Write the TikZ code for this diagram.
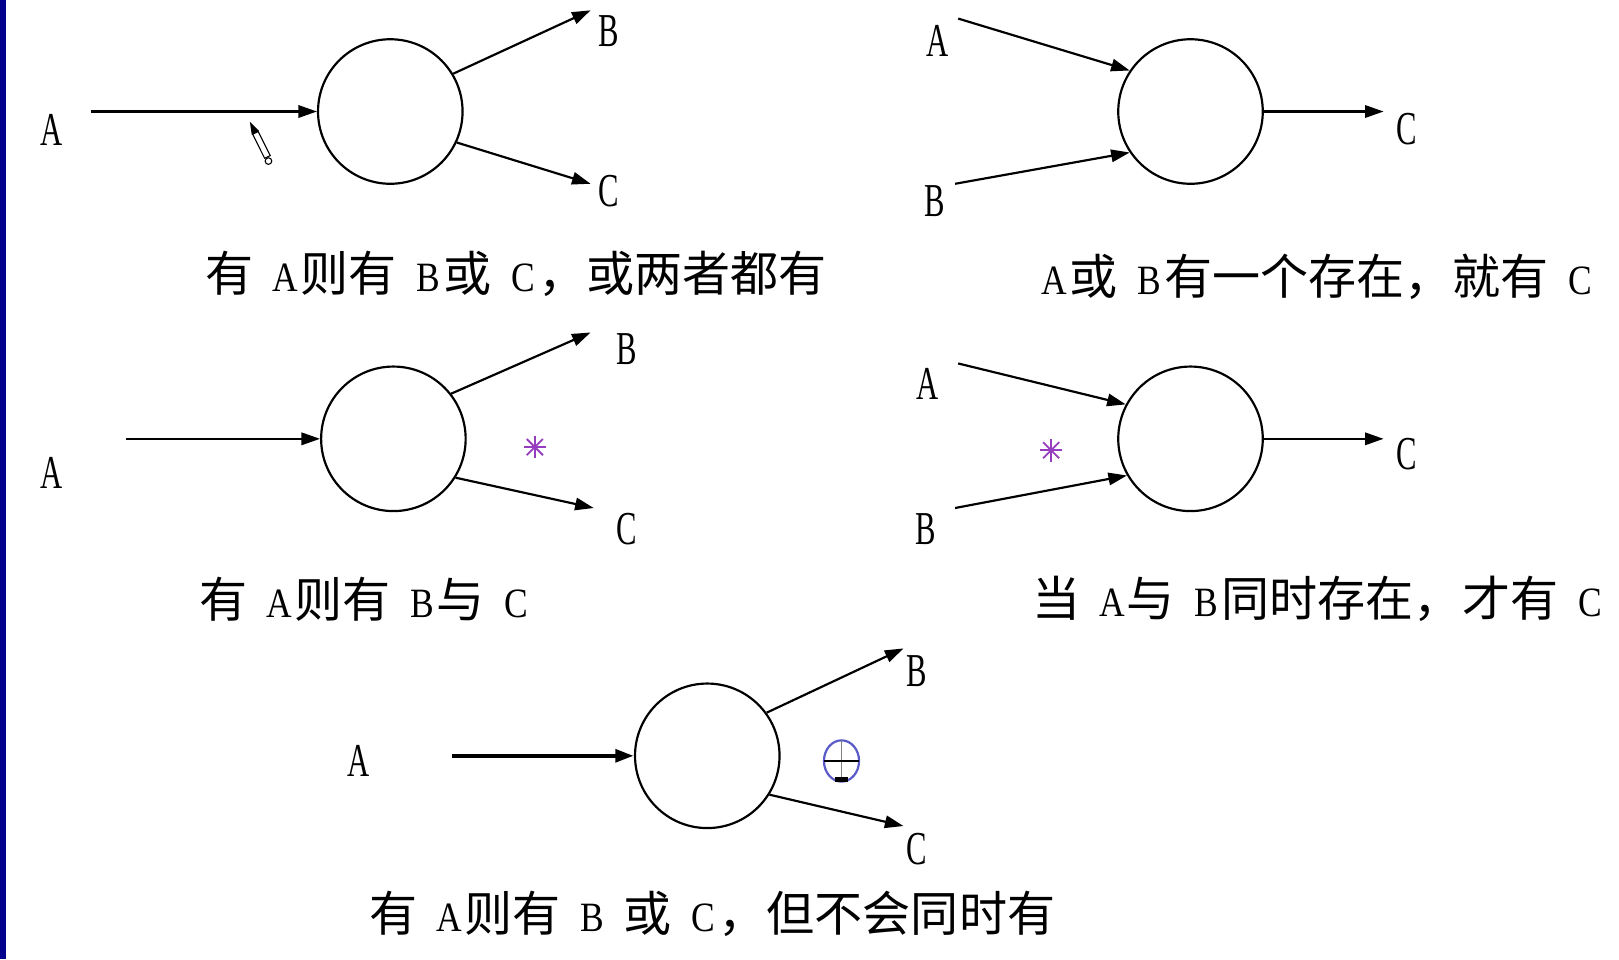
\documentclass[tikz,border=0pt]{standalone}
\usepackage{fontspec}
\usepackage{graphicx}
\setmainfont{Liberation Serif}
\newfontfamily\cjk{Noto Sans CJK SC}
\usetikzlibrary{arrows.meta,calc}
\definecolor{navybar}{RGB}{0,0,140}
\definecolor{starpurple}{RGB}{150,60,190}
\definecolor{xorblue}{RGB}{90,90,200}
\newcommand\lab[1]{\scalebox{0.65}[1]{#1}}
\newcommand\cl[1]{\makebox[0.62em]{\fontsize{23}{23}\selectfont\rmfamily\scalebox{0.85}[1]{#1}}}
\newcommand\gapsp{\hspace{0.35em}}
\begin{document}
\begin{tikzpicture}[x=0.02cm,y=-0.02cm,
  line width=1.2pt,
  arr/.style={-{Triangle[length=0.36cm,width=0.24cm]}},
  bub/.style={circle,draw,minimum size=2.8cm,inner sep=0pt,line width=1.2pt},
  lbl/.style={font=\fontsize{26}{26}\selectfont,inner sep=0pt},
  captext/.style={font=\cjk\fontsize{26.5}{26.5}\selectfont,inner sep=0pt},
  starline/.style={starpurple,line width=1pt}]
\useasboundingbox (0,0) rectangle (1568,929);
\fill[white] (0,0) rectangle (1568,929);
\fill[navybar] (0,0) rectangle (6,929);

% ---------- diagram 1 ----------
\node[bub] (k1) at (378,108) {};
\coordinate (s1a) at (88,108);
\coordinate (e1b) at (572,10);
\coordinate (e1c) at (572,178);
\draw[arr] (s1a) -- (k1.west);
\draw[arr] (k1.31) -- (e1b);
\draw[arr] (k1.-25) -- (e1c);
\node[lbl] (l1a) at (50,126) {\lab{A}};
\node[lbl] (l1b) at (590,30) {\lab{B}};
\node[lbl] (l1c) at (590,185) {\lab{C}};
\node[captext] (t1) at (500,265) {有\gapsp{}\cl{A}则有\gapsp{}\cl{B}或\gapsp{}\cl{C}，或两者都有};
% mouse cursor
\fill (242,118) -- (251,126.9) -- (243.8,130.5) -- cycle;
\draw[line width=0.6pt,fill=white] (250.1,127.4) -- (244.7,130.0) -- (256.3,153.3) -- (261.7,150.7) -- cycle;
\draw[line width=0.6pt,fill=white] (260,156) circle[radius=3.2];

% ---------- diagram 2 ----------
\node[bub] (k2) at (1153,108) {};
\coordinate (s2a) at (928,18);
\coordinate (s2b) at (925,178);
\coordinate (e2c) at (1340,108);
\draw[arr] (s2a) -- (k2.146);
\draw[arr] (s2b) -- (k2.214);
\draw[arr] (k2.east) -- (e2c);
\node[lbl] (l2a) at (908,40) {\lab{A}};
\node[lbl] (l2b) at (905,195) {\lab{B}};
\node[lbl] (l2c) at (1362,125) {\lab{C}};
\node[captext] (t2) at (1276,268) {\cl{A}或\gapsp{}\cl{B}有一个存在，就有\gapsp{}\cl{C}};

% ---------- diagram 3 ----------
\node[bub] (k3) at (381,425) {};
\coordinate (s3a) at (122,425);
\coordinate (e3b) at (572,322);
\coordinate (e3c) at (575,492);
\draw[arr] (s3a) -- (k3.west);
\draw[arr] (k3.38) -- (e3b);
\draw[arr] (k3.-32) -- (e3c);
\node[lbl] (l3a) at (50,458) {\lab{A}};
\node[lbl] (l3b) at (607,338) {\lab{B}};
\node[lbl] (l3c) at (607,512) {\lab{C}};
\foreach \ang in {0,45,90,135}
  \draw[starline] ($(518,433)+(\ang:0.22cm)$) -- ($(518,433)+(\ang+180:0.22cm)$);
\node[captext] (t3) at (354,580) {有\gapsp{}\cl{A}则有\gapsp{}\cl{B}与\gapsp{}\cl{C}};

% ---------- diagram 4 ----------
\node[bub] (k4) at (1153,425) {};
\coordinate (s4a) at (928,352);
\coordinate (s4b) at (925,492);
\coordinate (e4c) at (1340,425);
\draw[arr] (s4a) -- (k4.152);
\draw[arr] (s4b) -- (k4.210);
\draw[arr] (k4.east) -- (e4c);
\node[lbl] (l4a) at (898,372) {\lab{A}};
\node[lbl] (l4b) at (897,512) {\lab{B}};
\node[lbl] (l4c) at (1362,440) {\lab{C}};
\foreach \ang in {0,45,90,135}
  \draw[starline] ($(1018,436)+(\ang:0.22cm)$) -- ($(1018,436)+(\ang+180:0.22cm)$);
\node[captext] (t4) at (1277,580) {当\gapsp{}\cl{A}与\gapsp{}\cl{B}同时存在，才有\gapsp{}\cl{C}};

% ---------- diagram 5 ----------
\node[bub] (k5) at (685,732) {};
\coordinate (s5a) at (438,732);
\coordinate (e5b) at (875,628);
\coordinate (e5c) at (875,800);
\draw[arr,line width=2.4pt] (s5a) -- (k5.west);
\draw[arr] (k5.36) -- (e5b);
\draw[arr] (k5.-32) -- (e5c);
\node[lbl] (l5a) at (347,737) {\lab{A}};
\node[lbl] (l5b) at (888,650) {\lab{B}};
\node[lbl] (l5c) at (888,822) {\lab{C}};
\draw[xorblue,line width=1.2pt] (815,737) ellipse[x radius=0.34cm,y radius=0.4cm];
\draw[gray,line width=0.6pt] (815,717) -- (815,757);
\draw[line width=1.2pt] (798,737) -- (832,737);
\fill (809,753) rectangle (821,757);
\node[captext] (t5) at (690,885) {有\gapsp{}\cl{A}则有\gapsp{}\cl{B}\gapsp{}或\gapsp{}\cl{C}，但不会同时有};
\end{tikzpicture}
\end{document}
